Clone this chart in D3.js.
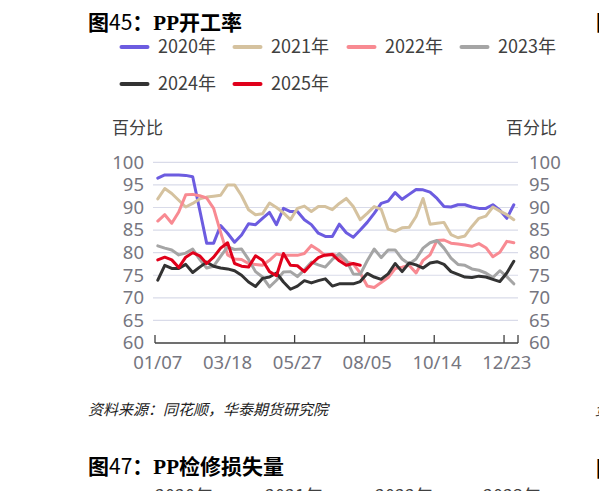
<!DOCTYPE html>
<html><head><meta charset="utf-8">
<script src="https://cdn.jsdelivr.net/npm/d3@7/dist/d3.min.js"></script>
<style>
html,body{margin:0;padding:0;background:#fff;overflow:hidden;}
svg{display:block;}
</style></head>
<body>
<svg id="c" width="599" height="491"></svg>
<script>
const categories = ["01/07","01/14","01/21","01/28","02/04","02/11","02/18","02/25","03/04","03/11",
"03/18","03/25","04/01","04/08","04/15","04/22","04/29","05/06","05/13","05/20",
"05/27","06/03","06/10","06/17","06/24","07/01","07/08","07/15","07/22","07/29",
"08/05","08/12","08/19","08/26","09/02","09/09","09/16","09/23","09/30","10/07",
"10/14","10/21","10/28","11/04","11/11","11/18","11/25","12/02","12/09","12/16",
"12/23","12/30"];
const tickLabels = ["01/07","03/18","05/27","08/05","10/14","12/23"];
const yTicks = [60,65,70,75,80,85,90,95,100];
const seriesNames = ["2020年","2021年","2022年","2023年","2024年","2025年"];

const s2020 = [96.5,97.2,97.2,97.2,97.1,96.8,89.5,82.1,82.1,86.0,84.3,82.3,83.9,86.4,86.2,87.6,88.9,86.2,89.8,89.1,
89.1,87.3,86.2,84.3,83.6,83.6,86.3,84.4,83.4,85.0,86.7,88.7,90.9,91.4,93.3,91.8,92.9,94.0,93.9,93.4,
92.0,90.2,90.1,90.6,90.6,90.1,89.8,89.8,90.6,89.4,87.6,90.6];
const s2021 = [91.9,94.2,93.1,91.6,90.1,90.9,91.9,92.3,92.5,92.7,95.0,95.0,92.6,89.5,88.4,88.6,91.0,90.0,88.8,87.3,
89.8,90.3,89.1,90.2,90.2,89.5,90.9,92.0,90.2,87.3,88.7,90.2,89.6,85.2,84.7,85.5,85.6,88.0,92.0,86.3,
86.5,86.7,84.0,83.3,83.7,85.8,87.6,88.1,90.1,89.2,88.4,87.3];
const s2022 = [87.0,88.4,86.5,89.0,92.8,92.9,92.6,92.1,89.8,84.5,79.5,78.6,78.5,77.6,77.4,77.2,78.3,79.7,79.4,79.4,
79.4,79.8,81.6,80.6,79.3,79.7,79.1,78.0,77.5,75.5,72.6,72.3,73.4,74.5,76.5,76.8,77.2,75.5,78.3,79.5,
82.7,82.8,82.1,81.9,81.7,81.4,82.0,81.1,79.1,80.1,82.5,82.2];
const s2023 = [81.5,81.0,80.6,79.5,79.9,80.8,78.5,76.6,77.0,79.2,81.3,80.7,80.8,78.5,75.8,74.6,72.4,73.9,75.7,75.8,
74.7,76.2,77.9,77.3,76.8,78.5,79.8,78.3,75.3,75.2,78.2,80.8,78.9,80.6,80.6,78.6,77.5,78.6,81.0,82.2,
82.7,81.0,78.8,77.4,77.2,76.4,76.1,75.5,74.5,76.0,74.7,73.1];
const s2024 = [73.9,77.2,76.5,76.5,77.4,75.6,76.8,77.9,77.0,76.6,76.4,76.0,75.0,73.5,72.5,74.3,74.6,75.5,73.5,71.9,
72.6,73.8,73.3,73.8,74.2,72.6,73.1,73.1,73.1,73.6,75.4,74.6,74.1,75.3,77.6,75.8,77.7,77.3,76.6,77.7,
78.0,77.4,75.8,75.2,74.6,74.5,74.8,74.6,74.1,73.6,75.5,78.1];
const s2025 = [78.4,79.0,78.4,76.7,79.0,80.0,79.3,77.6,79.0,81.0,82.2,77.6,77.0,76.8,79.3,78.3,75.8,74.9,79.8,77.2,
77.1,75.8,77.5,78.9,79.5,79.6,78.2,77.2,77.6,77.2];

const colors = ["#6c5ce0","#d5c29f","#f88a92","#a5a5a5","#333333","#e0001b"];
const allSeries = [s2020,s2021,s2022,s2023,s2024,s2025];

const svg = d3.select("#c");
const CJK = "'Noto Sans CJK SC','Noto Sans',sans-serif";
const NUM = "'Noto Sans','Noto Sans CJK SC',sans-serif";

// Title
const t = svg.append("text").attr("x",88).attr("y",30).attr("font-size",21).attr("fill","#000").attr("font-family",CJK);
t.append("tspan").attr("font-weight","bold").text("图");
t.append("tspan").attr("font-weight","normal").text("45");
t.append("tspan").attr("font-weight","bold").text("：");
t.append("tspan").attr("font-weight","bold").attr("font-family","'Liberation Serif',serif").text("PP");
t.append("tspan").attr("font-weight","bold").text("开工率");

// Legend
const legendPos = [[120,47],[233,47],[347,47],[460,47],[120,84],[233,84]];
seriesNames.forEach((n,k)=>{
  const [lx,ly] = legendPos[k];
  const g = svg.append("g").attr("transform",`translate(${lx},${ly})`);
  g.append("line").attr("x1",1.5).attr("x2",27.5).attr("y1",0).attr("y2",0)
    .attr("stroke",colors[k]).attr("stroke-width",4).attr("stroke-linecap","round");
  g.append("text").attr("x",38).attr("y",0).attr("dy","0.36em").attr("font-size",18)
    .attr("font-family",CJK).attr("fill","#404040").text(n);
});

// Scales
const x = d3.scaleBand().domain(categories).range([155,518]).padding(0);
const bw = x.bandwidth();
const px = c => x(c) + bw*0.4;
const y = d3.scaleLinear().domain([60,100]).range([343,162.3]);

// Grid
svg.append("g").selectAll("line").data(yTicks.filter(v=>v>60)).join("line")
  .attr("x1",153).attr("x2",518).attr("y1",d=>y(d)).attr("y2",d=>y(d))
  .attr("stroke","#d9dbe9").attr("stroke-width",1.2);

// Y axis labels
const yl = d3.axisLeft(y).tickValues(yTicks).tickSize(0).tickPadding(0);
const gl = svg.append("g").attr("transform","translate(144,0)").call(yl);
const yr = d3.axisRight(y).tickValues(yTicks).tickSize(0).tickPadding(0);
const gr = svg.append("g").attr("transform","translate(529,0)").call(yr);
[gl,gr].forEach(g=>{
  g.select(".domain").remove();
  g.selectAll("text").attr("font-size",18.5).attr("font-family",NUM).attr("fill","#767680");
});

svg.append("text").attr("x",112).attr("y",128).attr("dy","0.36em").attr("font-size",17)
  .attr("font-family",CJK).attr("fill","#404040").text("百分比");
svg.append("text").attr("x",506).attr("y",128).attr("dy","0.36em").attr("font-size",17)
  .attr("font-family",CJK).attr("fill","#404040").text("百分比");

// X axis
const xa = svg.append("g");
xa.append("line").attr("x1",155).attr("x2",518).attr("y1",y(60)).attr("y2",y(60))
  .attr("stroke","#404040").attr("stroke-width",1.3);
const tickXs = tickLabels.map(c=>x(c)).concat([x.range()[1]]);
xa.selectAll("line.tk").data(tickXs).join("line").attr("class","tk")
  .attr("x1",d=>d).attr("x2",d=>d).attr("y1",y(60)).attr("y2",y(60)-8)
  .attr("stroke","#404040").attr("stroke-width",1.3);
xa.selectAll("text").data(tickLabels).join("text")
  .attr("x",d=>px(d)).attr("y",362).attr("dy","0.36em").attr("text-anchor","middle")
  .attr("font-size",18.5).attr("font-family",NUM).attr("fill","#767680").text(d=>d);

// Lines
const line = d3.line().x((d,i)=>px(categories[i])).y(d=>y(d)).curve(d3.curveLinear);
allSeries.forEach((s,k)=>{
  svg.append("path").datum(s).attr("d",line).attr("fill","none")
    .attr("stroke",colors[k]).attr("stroke-width",3).attr("stroke-linejoin","round").attr("stroke-linecap","round");
});

// Source
svg.append("text").attr("x",88).attr("y",410).attr("dy","0.36em").attr("font-size",15)
  .attr("font-style","italic").attr("font-family",CJK).attr("fill","#222").text("资料来源：同花顺，华泰期货研究院");

// Next figure title
const t2 = svg.append("text").attr("x",88).attr("y",474).attr("font-size",21).attr("fill","#000").attr("font-family",CJK);
t2.append("tspan").attr("font-weight","bold").text("图");
t2.append("tspan").attr("font-weight","normal").text("47");
t2.append("tspan").attr("font-weight","bold").text("：");
t2.append("tspan").attr("font-weight","bold").attr("font-family","'Liberation Serif',serif").text("PP");
t2.append("tspan").attr("font-weight","bold").text("检修损失量");

// cut-off legend of next figure
[["2020年",155],["2021年",265],["2022年",375],["2023年",483]].forEach(([n,lx])=>{
  svg.append("text").attr("x",lx).attr("y",503).attr("font-size",18).attr("font-family",CJK)
    .attr("fill","#404040").text(n);
});

// partial neighbours at right edge
svg.append("text").attr("x",596).attr("y",30).attr("font-size",21).attr("font-weight","bold")
  .attr("font-family",CJK).attr("fill","#000").text("图");
svg.append("text").attr("x",596).attr("y",476).attr("font-size",21).attr("font-weight","bold")
  .attr("font-family",CJK).attr("fill","#000").text("图");
svg.append("text").attr("x",595).attr("y",415).attr("font-size",15).attr("font-style","italic")
  .attr("font-family",CJK).attr("fill","#222").text("资");
</script>
</body></html>
